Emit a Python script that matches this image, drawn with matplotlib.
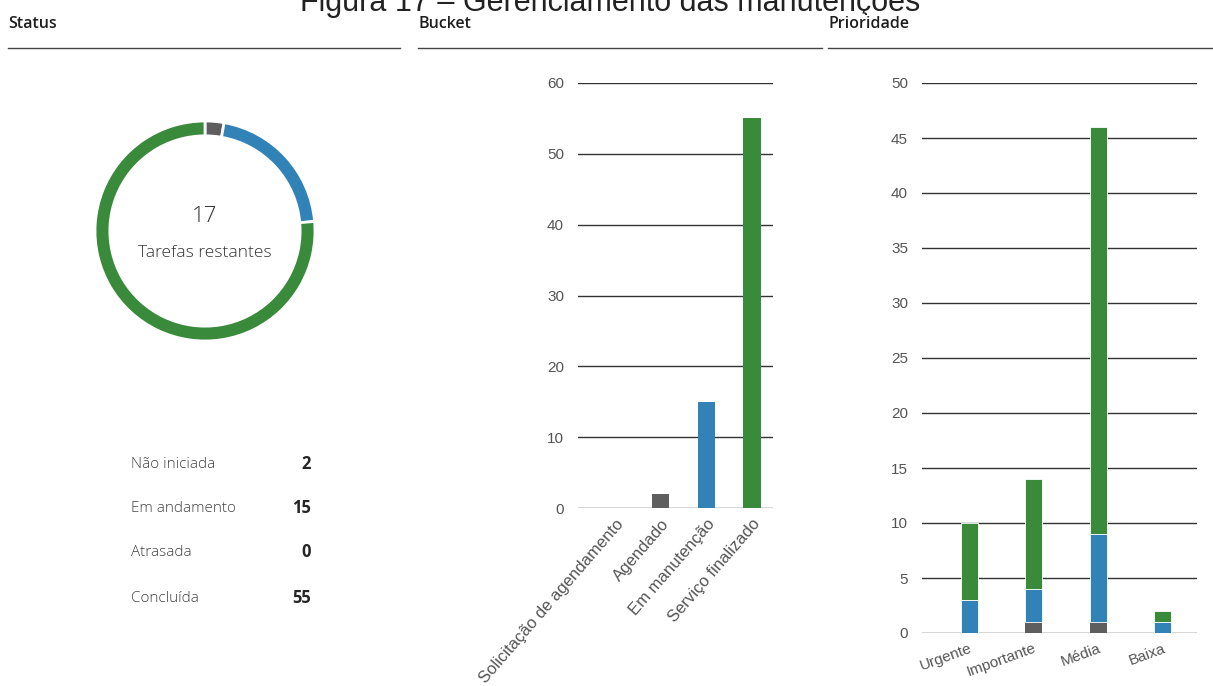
import matplotlib
matplotlib.use("Agg")
import matplotlib.pyplot as plt

W, H = 1213, 686

# ---- data ----
status_labels = ["Não iniciada", "Em andamento", "Atrasada", "Concluída"]
status_values = [2, 15, 0, 55]
remaining = 17

bucket_cats = ["Solicitação de agendamento", "Agendado", "Em manutenção", "Serviço finalizado"]
bucket_vals = [0, 2, 15, 55]
bucket_colors_idx = ["gray", "gray", "blue", "green"]

prio_cats = ["Urgente", "Importante", "Média", "Baixa"]
prio_gray = [0, 1, 1, 0]
prio_blue = [3, 3, 8, 1]
prio_green = [7, 10, 37, 1]

COL = {"gray": "#5e5e5e", "blue": "#3182b6", "green": "#3a8a3c"}
status_colors = [COL["gray"], COL["blue"], "#d13438", COL["green"]]

fig = plt.figure(figsize=(W / 100, H / 100), dpi=100)
fig.patch.set_facecolor("white")


def px_axes(x, y, w, h):
    return fig.add_axes([x / W, 1 - (y + h) / H, w / W, h / H])


def fx(x):
    return x / W


def fy(y):
    return 1 - y / H


# title (partially clipped at top, as in the reference)
fig.text(fx(610), fy(11), "Figura 17 – Gerenciamento das manutenções", ha="center",
         va="baseline", fontsize=22, family="Liberation Sans", color="#222222")

# headers
for x0, x1, name in [(8, 400, "Status"), (418, 822, "Bucket"), (828, 1213, "Prioridade")]:
    fig.text(fx(x0), fy(28), name, ha="left", va="baseline", fontsize=11.5,
             family="Open Sans", weight="semibold", color="#1e1e1e",
             bbox=dict(facecolor="white", edgecolor="none", pad=1))
    fig.add_artist(plt.Line2D([fx(x0), fx(x1)], [fy(48), fy(48)], color="#444444", lw=1.0))

# ---- donut ----
axd = px_axes(95, 121, 220, 220)
axd.axis("off")
vals = [v for v in status_values if v > 0]
cols = [c for v, c in zip(status_values, status_colors) if v > 0]
axd.pie(vals, colors=cols, startangle=90, counterclock=False, radius=1.0,
        wedgeprops=dict(width=0.135, edgecolor="white", linewidth=2.0))
axd.set_xlim(-1, 1)
axd.set_ylim(-1, 1)
axd.set_aspect("equal")
axd.text(0, 0.13, str(remaining), ha="center", va="center", fontsize=16,
         family="Open Sans", weight="light", color="#333333")
axd.text(0, -0.2, "Tarefas restantes", ha="center", va="center", fontsize=12.5,
         family="Open Sans", weight="light", color="#333333")

# legend list
for i, (lab, v) in enumerate(zip(status_labels, status_values)):
    yy = [464, 508, 552, 598][i]
    fig.text(fx(131), fy(yy), lab, ha="left", va="center", fontsize=11,
             family="Open Sans", weight="light", color="#444444")
    fig.text(fx(311), fy(yy), str(v), ha="right", va="center", fontsize=12,
             family="Open Sans", weight="bold", color="#252525")

TICK_FS = 11

# ---- bucket bar chart ----
axb = px_axes(578, 83, 195, 425)
bx = list(range(len(bucket_cats)))
axb.bar(bx, bucket_vals, width=0.38, color=[COL[c] for c in bucket_colors_idx], zorder=3)
axb.set_xlim(-0.81, 3.46)
axb.set_ylim(0, 60)
axb.set_yticks(range(0, 61, 10))
axb.grid(axis="y", color="#333333", lw=1.0, zorder=0)
for s in axb.spines.values():
    s.set_visible(False)
axb.tick_params(axis="both", length=0, labelsize=TICK_FS, labelcolor="#555555")
axb.tick_params(axis="y", pad=10)
axb.tick_params(axis="x", pad=6)
axb.set_xticks(bx)
axb.set_xticklabels(bucket_cats, rotation=49, ha="right", rotation_mode="anchor",
                    family="Liberation Sans", fontsize=12)
for t in axb.get_yticklabels():
    t.set_family("Liberation Sans")
axb.set_axisbelow(True)

# ---- priority stacked chart ----
axp = px_axes(922, 83, 275, 550)
px_ = list(range(len(prio_cats)))
axp.bar(px_, prio_gray, width=0.26, color=COL["gray"], zorder=3)
bottom1 = [g for g in prio_gray]
axp.bar(px_, prio_blue, width=0.26, bottom=bottom1, color=COL["blue"], zorder=3,
        edgecolor="white", linewidth=0.6)
bottom2 = [g + b for g, b in zip(prio_gray, prio_blue)]
axp.bar(px_, prio_green, width=0.26, bottom=bottom2, color=COL["green"], zorder=3,
        edgecolor="white", linewidth=0.6)
axp.set_xlim(-0.73, 3.53)
axp.set_ylim(0, 50)
axp.set_yticks(range(0, 51, 5))
axp.grid(axis="y", color="#333333", lw=1.0, zorder=0)
for s in axp.spines.values():
    s.set_visible(False)
axp.tick_params(axis="both", length=0, labelsize=TICK_FS, labelcolor="#555555")
axp.tick_params(axis="y", pad=10)
axp.tick_params(axis="x", pad=6)
axp.set_xticks(px_)
axp.set_xticklabels(prio_cats, rotation=20, ha="right", rotation_mode="anchor",
                    family="Liberation Sans")
for t in axp.get_yticklabels():
    t.set_family("Liberation Sans")

fig.savefig("out.png", dpi=100, facecolor="white")
